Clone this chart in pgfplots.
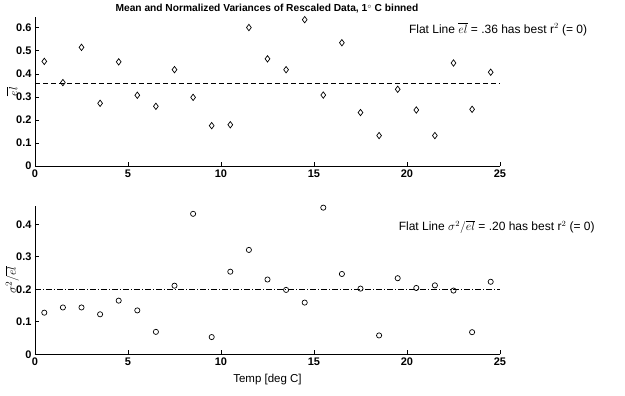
\documentclass[border=0pt]{standalone}
\usepackage{fontspec}
\setmainfont{Liberation Sans}
\usepackage{pgfplots}
\pgfplotsset{compat=1.18}

\pgfplotsset{
  panel/.style={
    scale only axis, width=465pt, height=148.6pt,
    axis lines=left, axis line style={-, line width=0.8pt},
    xmin=0, xmax=25, ymin=0,
    xtick={0,5,...,25},
    tick align=inside, major tick length=4pt,
    tick style={black, line width=0.6pt},
    /pgf/number format/assume math mode=true,
    ticklabel style={font=\bfseries\fontsize{11}{13}\selectfont},
    yticklabel style={/pgf/number format/fixed, /pgf/number format/precision=1},
    ylabel style={font=\fontsize{12.5}{14}\selectfont, at={(axis description cs:-0.049,0.5)}, anchor=center},
    xlabel style={font=\fontsize{11.5}{13}\selectfont, yshift=-2pt},
    clip=false,
  },
  pts/.style={only marks, black, line width=0.7pt, mark options={solid, fill=none}},
}

\begin{document}
\begin{tikzpicture}[x=1pt,y=1pt]
\path[use as bounding box] (0,0) rectangle (625,396);

% Upper panel: bin means
\begin{axis}[panel, at={(35pt,230pt)}, anchor=south west,
  ymax=0.645, ytick={0,0.1,...,0.6},
  ylabel={$\overline{el}$}]
\addplot[pts, mark=diamond, mark size=3.2pt] coordinates {
  (0.5,0.454) (1.5,0.362) (2.5,0.515) (3.5,0.272) (4.5,0.452)
  (5.5,0.307) (6.5,0.259) (7.5,0.418) (8.5,0.298) (9.5,0.175)
  (10.5,0.179) (11.5,0.601) (12.5,0.465) (13.5,0.418) (14.5,0.635)
  (15.5,0.308) (16.5,0.535) (17.5,0.232) (18.5,0.132) (19.5,0.333)
  (20.5,0.243) (21.5,0.132) (22.5,0.447) (23.5,0.246) (24.5,0.407)
};
\addplot[black, line width=0.7pt, dash pattern=on 5pt off 3pt] coordinates {(0,0.36) (25,0.36)};
\node[anchor=west, font=\fontsize{12}{14}\selectfont, inner sep=0pt] at (axis cs:20.1,0.593)
  {Flat Line $\overline{el}$ = .36 has best r$^2$ (= 0)};
\end{axis}

% Lower panel: normalized variances
\begin{axis}[panel, at={(35pt,41.7pt)}, anchor=south west,
  ymax=0.457, ytick={0,0.1,...,0.4},
  ylabel={$\sigma^2/\overline{el}$},
  xlabel={Temp [deg C]}]
\addplot[pts, mark=o, mark size=2.6pt] coordinates {
  (0.5,0.128) (1.5,0.144) (2.5,0.144) (3.5,0.123) (4.5,0.165)
  (5.5,0.135) (6.5,0.069) (7.5,0.211) (8.5,0.432) (9.5,0.053)
  (10.5,0.254) (11.5,0.321) (12.5,0.230) (13.5,0.198) (14.5,0.159)
  (15.5,0.451) (16.5,0.247) (17.5,0.202) (18.5,0.058) (19.5,0.234)
  (20.5,0.204) (21.5,0.212) (22.5,0.196) (23.5,0.068) (24.5,0.223)
};
\addplot[black, line width=0.7pt, dash pattern=on 6pt off 2pt on 1pt off 2pt] coordinates {(0,0.20) (25,0.20)};
\node[anchor=west, font=\fontsize{12}{14}\selectfont, inner sep=0pt] at (axis cs:19.55,0.392)
  {Flat Line $\sigma^2/\overline{el}$ = .20 has best r$^2$ (= 0)};
\end{axis}

\node[font=\bfseries\fontsize{10.2}{12}\selectfont] at (267,387)
  {Mean and Normalized Variances of Rescaled Data, 1$^{\circ}$ C binned};
\end{tikzpicture}
\end{document}
